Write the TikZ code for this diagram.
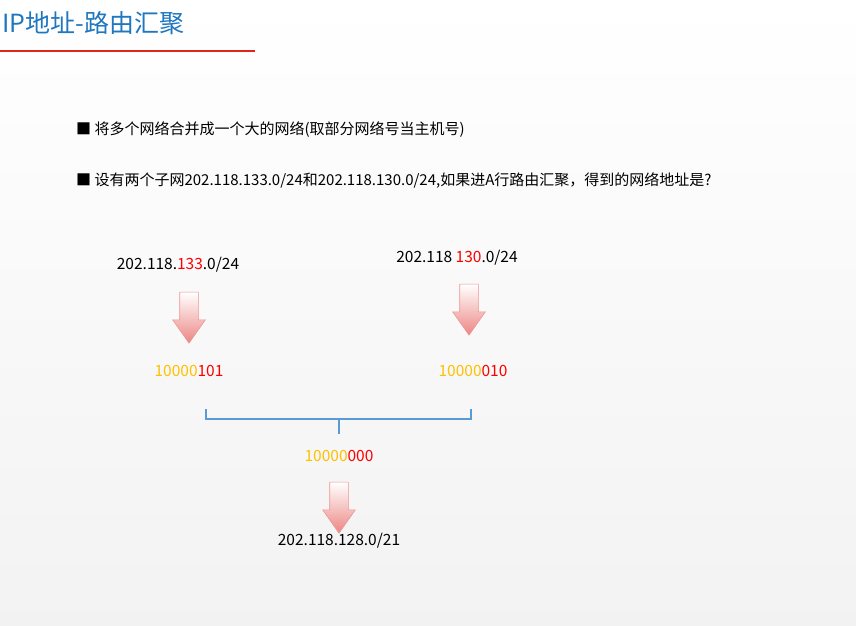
\documentclass[tikz,border=0pt]{standalone}
\usepackage{fontspec}
\setmainfont{Noto Sans CJK SC}
\usetikzlibrary{shapes.arrows}

\definecolor{titleblue}{HTML}{1F77C0}
\definecolor{rulered}{HTML}{E0251B}
\definecolor{bracketblue}{HTML}{5B9BD5}
\definecolor{binhi}{HTML}{FFC000}
\definecolor{binlo}{HTML}{FF0000}
\definecolor{arrowred}{HTML}{E8716E}

\begin{document}
\begin{tikzpicture}[x=1pt, y=-1pt,
		title/.style={anchor=west, inner sep=0pt, font=\fontsize{25}{29}\selectfont, text=titleblue},
		bullet/.style={anchor=west, inner sep=0pt, font=\fontsize{15}{18}\selectfont},
		label/.style={inner sep=0pt, font=\fontsize{15.5}{18}\selectfont},
		downarrow/.style={single arrow, shape border rotate=270, draw=arrowred!75!white, line width=0.6pt,
				top color=white, bottom color=arrowred!85!white,
				minimum height=51pt, minimum width=32pt, inner sep=0pt,
				text width=18pt, text height=0pt, text depth=0pt,
				single arrow head extend=7pt, single arrow tip angle=70},
		bracket/.style={draw=bracketblue, line width=1.2pt},
	]

	% --- Sfondo e titolo ---
	\shade [top color=white, bottom color=gray!10] (0,0) rectangle (856,625);
	\useasboundingbox (0,0) rectangle (856,625);
	\node (title) [title] at (2,23) {IP地址-路由汇聚};
	\draw [color=rulered, line width=1.2pt] (0,51) -- (255,51);

	% --- Testo ---
	\node (b1) [bullet] at (76,130) {■ 将多个网络合并成一个大的网络(取部分网络号当主机号)};
	\node (b2) [bullet] at (76,181) {■ 设有两个子网202.118.133.0/24和202.118.130.0/24,如果进A行路由汇聚，得到的网络地址是?};

	% --- Due sottoreti ---
	\node (netL) [label] at (178,265) {202.118.{\color{binlo}133}.0/24};
	\node (netR) [label] at (457,258) {202.118 {\color{binlo}130}.0/24};
	\node (arrL) [downarrow] at (189,311) {};
	\node (arrR) [downarrow] at (469,303) {};
	\node (binL) [label] at (189,371) {{\color{binhi}10000}{\color{binlo}101}};
	\node (binR) [label] at (473,371) {{\color{binhi}10000}{\color{binlo}010}};

	% --- Parentesi di unione ---
	\coordinate (brL) at (206,419);
	\coordinate (brR) at (471,419);
	\coordinate (brM) at (339,419);
	\draw [bracket] (brL) ++(0,-10) -- (brL) -- (brR) -- ++(0,-10);
	\draw [bracket] (brM) -- ++(0,15);

	% --- Risultato ---
	\node (binS) [label] at (339,456) {{\color{binhi}10000}{\color{binlo}000}};
	\node (arrS) [downarrow] at (339,501) {};
	\node (netS) [label] at (339,541) {202.118.128.0/21};

\end{tikzpicture}
\end{document}
